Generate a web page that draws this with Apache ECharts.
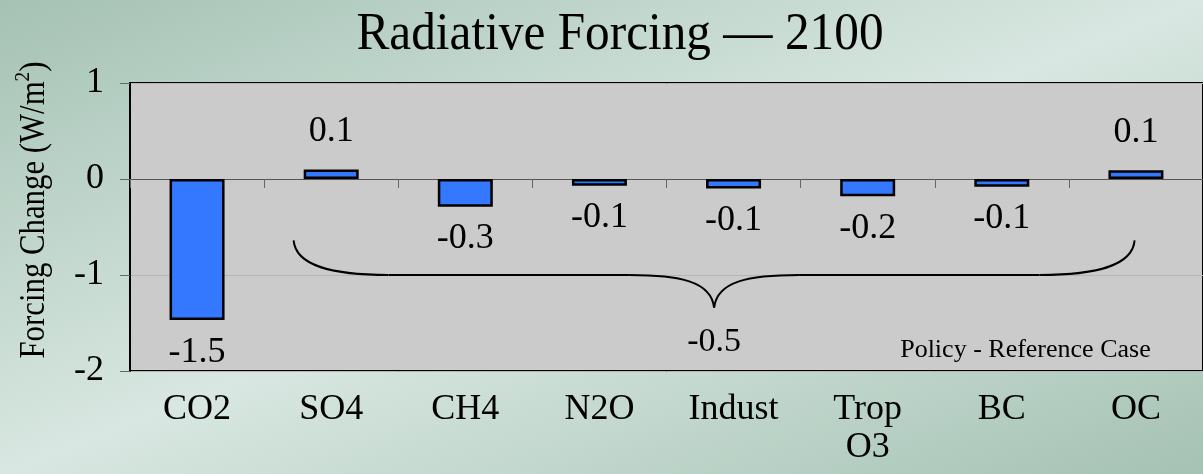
<!DOCTYPE html>
<html>
<head>
<meta charset="utf-8">
<script src="https://cdn.jsdelivr.net/npm/echarts@6.0.0/dist/echarts.min.js"></script>
<style>
  html, body { margin: 0; padding: 0; }
  body {
    width: 1203px;
    height: 474px;
    background: linear-gradient(to bottom right, #a5c2b4 0%, #d8e7e1 50%, #a5c2b4 100%);
  }
  #chart { width: 1203px; height: 474px; }
</style>
</head>
<body>
<div id="chart"></div>
<script>
// categories and forcing values (W/m2), policy minus reference case
var categories = ["CO2", "SO4", "CH4", "N2O", "Indust", "Trop\nO3", "BC", "OC"];
var forcing = [-1.47, 0.10, -0.29, -0.07, -0.10, -0.18, -0.08, 0.09];
var yTicks = [-2, -1, 0, 1];

var serif = '"Liberation Serif", "Times New Roman", serif';

// sum of everything except CO2 (the brace)
var otherSum = 0;
for (var i = 1; i < forcing.length; i++) otherSum += forcing[i];

var chart = echarts.init(document.getElementById("chart"), null, { renderer: "canvas" });

chart.setOption({
  backgroundColor: "transparent",
  animation: false,
  grid: {
    left: 130,
    right: -2,
    top: 83,
    bottom: 103,
    show: true,
    backgroundColor: "#cbcbcb",
    borderColor: "#000",
    borderWidth: 2,
  },
  xAxis: [
    {
      // labels along the bottom
      type: "category",
      data: categories,
      position: "bottom",
      axisLine: { show: false, onZero: false },
      axisTick: { show: false },
      axisLabel: {
        margin: 20,
        fontFamily: serif,
        fontSize: 36,
        lineHeight: 38,
        color: "#000",
      },
    },
    {
      // zero line with ticks between categories
      type: "category",
      data: categories,
      position: "bottom",
      axisLine: { show: true, onZero: true, lineStyle: { color: "#555", width: 1 } },
      axisTick: { show: true, length: 9, lineStyle: { color: "#666" } },
      axisLabel: { show: false },
    },
  ],
  yAxis: {
    type: "value",
    min: yTicks[0],
    max: yTicks[yTicks.length - 1],
    interval: 1,
    axisLine: { show: true, lineStyle: { color: "#000", width: 2 } },
    axisTick: { show: true, length: 10, lineStyle: { color: "#666" } },
    axisLabel: {
      margin: 26,
      fontFamily: serif,
      fontSize: 36,
      color: "#000",
    },
    splitLine: { show: true, lineStyle: { color: "#b6b6b6", width: 1 } },
  },
  series: [
    {
      type: "bar",
      xAxisIndex: 0,
      barWidth: "41%",
      data: forcing.map(function (v) {
        return {
          value: v,
          label: {
            position: v >= 0 ? "top" : "bottom",
            distance: v >= 0 ? 20 : 14,
          },
        };
      }),
      itemStyle: { color: "#3478ff", borderColor: "#000", borderWidth: 2.5 },
      label: {
        show: true,
        fontFamily: serif,
        fontSize: 36,
        color: "#000",
        formatter: function (p) { return p.value.toFixed(1); },
      },
    },
  ],
});

// annotations: title, y axis name, brace with total, caption
function px(cat, val) {
  var a = chart.convertToPixel({ gridIndex: 0 }, [0, val]);
  var b = chart.convertToPixel({ gridIndex: 0 }, [1, val]);
  return [a[0] + (b[0] - a[0]) * cat, a[1]];
}

var pL = px(0.72, -0.64);
var pR = px(6.99, -0.64);
var yMid = px(0, -1.0)[1];
var yCusp = px(0, -1.34)[1];
var x0 = pL[0], x1 = pR[0], yTop = pL[1];
var xm = (x0 + x1) / 2;

var braceStyle = { fill: null, stroke: "#000", lineWidth: 2 };
function curve(ax, ay, c1x, c1y, c2x, c2y, bx, by) {
  return {
    type: "bezierCurve",
    shape: { x1: ax, y1: ay, cpx1: c1x, cpy1: c1y, cpx2: c2x, cpy2: c2y, x2: bx, y2: by },
    style: braceStyle,
  };
}
function seg(ax, ay, bx, by) {
  return { type: "line", shape: { x1: ax, y1: ay, x2: bx, y2: by }, style: braceStyle };
}

var braceParts = [
  curve(x0, yTop, x0 + 2, yTop + 26, x0 + 40, yMid, x0 + 95, yMid),
  seg(x0 + 95, yMid, xm - 85, yMid),
  curve(xm - 85, yMid, xm - 35, yMid, xm - 3, yMid + 6, xm, yCusp),
  curve(xm, yCusp, xm + 3, yMid + 6, xm + 35, yMid, xm + 85, yMid),
  seg(xm + 85, yMid, x1 - 95, yMid),
  curve(x1 - 95, yMid, x1 - 40, yMid, x1 - 2, yTop + 26, x1, yTop),
];

var sumPos = px(0, -1.70);
var capPos = px(7.11, -1.78);

chart.setOption({
  graphic: [
    {
      type: "text",
      x: 620,
      y: 35,
      scaleX: 0.93,
      style: {
        text: "Radiative Forcing \u2014 2100",
        font: "53px " + serif,
        fill: "#000",
        textAlign: "center",
        textVerticalAlign: "middle",
      },
    },
    {
      type: "text",
      x: 32,
      y: 210,
      rotation: Math.PI / 2,
      scaleX: 0.88,
      style: {
        text: "{a|Forcing Change (W/m}{s|2}{a|)}",
        textAlign: "center",
        textVerticalAlign: "middle",
        rich: {
          a: { fontFamily: serif, fontSize: 35, lineHeight: 40, fill: "#000", verticalAlign: "bottom" },
          s: { fontFamily: serif, fontSize: 22, lineHeight: 40, fill: "#000", verticalAlign: "top" },
        },
      },
    },
  ].concat(braceParts, [
    {
      type: "text",
      x: xm,
      y: sumPos[1],
      style: {
        text: otherSum.toFixed(1),
        font: "34px " + serif,
        fill: "#000",
        textAlign: "center",
        textVerticalAlign: "middle",
      },
    },
    {
      type: "text",
      x: capPos[0],
      y: capPos[1],
      style: {
        text: "Policy - Reference Case",
        font: "26px " + serif,
        fill: "#000",
        textAlign: "right",
        textVerticalAlign: "middle",
      },
    },
  ]),
});
</script>
</body>
</html>
